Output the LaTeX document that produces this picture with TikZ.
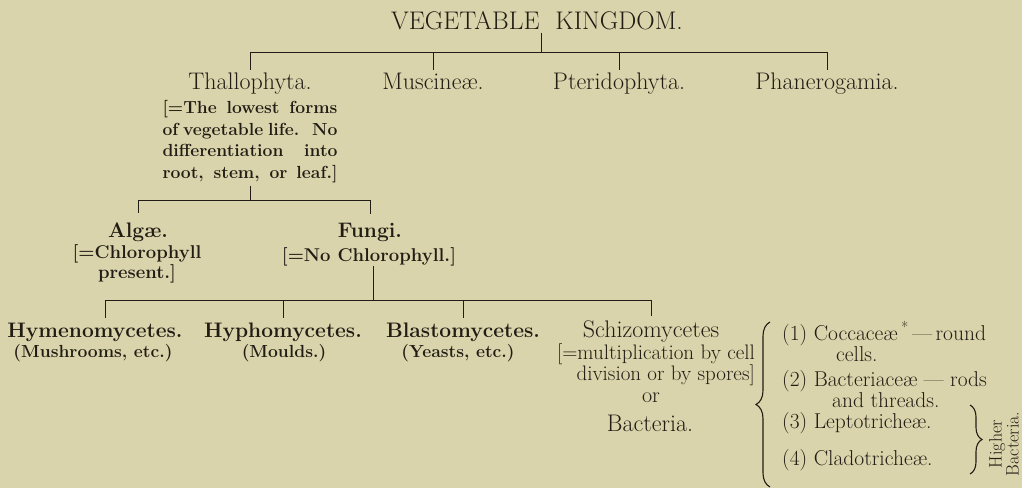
\documentclass[tikz,border=0pt]{standalone}
\usetikzlibrary{decorations.pathreplacing}
\definecolor{paper}{RGB}{218,212,172}
\definecolor{ink}{RGB}{34,29,20}

\tikzset{
  taxon/.style={font=\fontsize{24}{28}\selectfont, inner sep=0pt, anchor=base, text=ink},
  group/.style={font=\bfseries\fontsize{21}{25}\selectfont, inner sep=0pt, anchor=base, text=ink},
  note/.style={font=\bfseries\fontsize{17.5}{21.5}\selectfont, inner sep=0pt, anchor=base, text=ink},
  item/.style={font=\fontsize{21.5}{25}\selectfont, inner sep=0pt, anchor=base west, text=ink},
  link/.style={draw=ink, line width=0.8pt},
  curly/.style={draw=ink, line width=1.1pt, decorate, decoration={brace, amplitude=14pt}}
}

\begin{document}
\begin{tikzpicture}[x=1pt, y=-1pt]
    \fill[paper] (0,0) rectangle (1022,488);

    % Kingdom and its four divisions
    \node[taxon, font=\fontsize{25.5}{30}\selectfont] (title) at (537,29) {VEGETABLE\hspace{16pt}KINGDOM.};
    \node[taxon] (thal) at (250,89) {Thallophyta.};
    \node[taxon] (musc) at (433,89) {Muscineæ.};
    \node[taxon] (pter) at (619,89) {Pteridophyta.};
    \node[taxon] (phan) at (827,89) {Phanerogamia.};
    \node[note, align=left] (thalnote) at (250,178) {%
        \makebox[175pt][s]{[=The lowest forms}\\
        \makebox[175pt][s]{of vegetable life. \ No}\\
        \makebox[175pt][s]{differentiation \ \ into}\\
        \makebox[175pt][s]{root, stem, or leaf.]}};

    % Algae and Fungi
    \node[group] (alg) at (138,237) {Algæ.};
    \node[group] (fun) at (370,237) {Fungi.};
    \node[note, align=center, font=\bfseries\fontsize{18.5}{17}\selectfont] (algnote) at (137,278) {[=Chlorophyll\\present.]};
    \node[note, font=\bfseries\fontsize{18.5}{22}\selectfont] (funnote) at (369,261) {[=No Chlorophyll.]};

    % Classes of fungi
    \node[group] (hym) at (95,337) {Hymenomycetes.};
    \node[group] (hyp) at (283,337) {Hyphomycetes.};
    \node[group] (bla) at (463,337) {Blastomycetes.};
    \node[taxon] (sch) at (651,337) {Schizomycetes};
    \node[note] (hymnote) at (93,357) {(Mushrooms, etc.)};
    \node[note] (hypnote) at (284,357) {(Moulds.)};
    \node[note] (blanote) at (458,357) {(Yeasts, etc.)};
    \node[note, align=right, anchor=base east, font=\fontsize{21}{21}\selectfont] (schnote) at (755,380) {[=multiplication by cell\\division or by spores]};
    \node[taxon, font=\fontsize{22}{25}\selectfont] (schor) at (651,402) {or};
    \node[taxon] (bact) at (650,431) {Bacteria.};

    % Families of bacteria
    \node[item] (coc) at (782,340) {(1) Coccaceæ\,\textsuperscript{*}\,—\,round};
    \node[item] (cocb) at (836,361) {cells.};
    \node[item] (bac) at (782,386) {(2) Bacteriaceæ — rods};
    \node[item] (bacb) at (832,407) {and threads.};
    \node[item] (lep) at (782,428) {(3) Leptotricheæ.};
    \node[item] (cla) at (782,465) {(4) Cladotricheæ.};
    \node[taxon, font=\fontsize{18}{15.5}\selectfont, align=center, rotate=90, anchor=center] (higher) at (1004,444) {Higher\\Bacteria.};

    % Connections
    \coordinate (kbar) at (541,52);
    \coordinate (tbar) at (250,200);
    \coordinate (fbar) at (373,300);
    \draw[link] ([yshift=-3pt]kbar |- title.south) -- (kbar);
    \draw[link] (thal.north |- kbar) -- (phan.north |- kbar);
    \foreach \n in {thal,musc,pter,phan} {
        \draw[link] (\n.north |- kbar) -- ([yshift=2pt]\n.north);
    }
    \draw[link] ([yshift=-3pt]thalnote.south -| tbar) -- (tbar);
    \draw[link] (alg.north |- tbar) -- (fun.north |- tbar);
    \foreach \n in {alg,fun} {
        \draw[link] (\n.north |- tbar) -- ([yshift=9pt]\n.north);
    }
    \draw[link] (funnote.south -| fbar) -- (fbar);
    \draw[link] ([xshift=10pt]hym.north |- fbar) -- (sch.north |- fbar);
    \draw[link] ([xshift=10pt]hym.north |- fbar) -- ([xshift=10pt, yshift=4pt]hym.north);
    \foreach \n in {hyp,bla,sch} {
        \draw[link] (\n.north |- fbar) -- ([yshift=4pt]\n.north);
    }

    % Braces
    \draw[curly] (770,487) -- (770,322);
    \draw[curly, decoration={brace, amplitude=12pt}] (970,405) -- (970,474);
\end{tikzpicture}
\end{document}
